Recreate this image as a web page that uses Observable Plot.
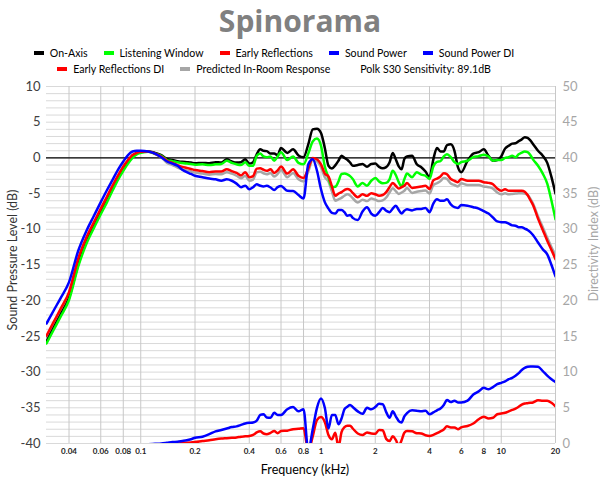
<!DOCTYPE html>
<html><head><meta charset="utf-8">
<script src="https://cdn.jsdelivr.net/npm/d3@7"></script>
<script src="https://cdn.jsdelivr.net/npm/@observablehq/plot@0.6"></script>
<style>
body{margin:0;background:#fff;font-family:Lato,"Open Sans",sans-serif;}
#wrap{position:relative;width:600px;height:480px;overflow:hidden;background:#fff;}
#head{position:relative;height:78px;}
#title{position:absolute;left:0;width:600px;top:1px;text-align:center;font-family:"Open Sans",sans-serif;font-size:30px;font-weight:700;color:#808080;line-height:40px;}
.row{position:absolute;left:0;width:548px;display:flex;justify-content:center;align-items:center;font-size:10.6px;color:#000;gap:16px;height:14px;line-height:14px;}
.item{display:flex;align-items:center;gap:6px;white-space:nowrap;}
.sw{width:10px;height:4px;display:inline-block;}
.atitle{position:absolute;white-space:nowrap;transform:translate(-50%,-50%);}
</style></head><body>
<div id="wrap">
<div id="head"><div id="title">Spinorama</div><div class="row" id="r1" style="top:46px"></div><div class="row" id="r2" style="top:62px"></div></div>
<div id="chart"></div>
<div class="atitle" id="ylab" style="left:12px;top:260px;transform:translate(-50%,-50%) rotate(-90deg);font-size:12.5px;color:#333;">Sound Pressure Level (dB)</div>
<div class="atitle" id="y2lab" style="left:593px;top:244px;transform:translate(-50%,-50%) rotate(-90deg);font-size:12.5px;color:#a6a6a6;">Directivity Index (dB)</div>
<div class="atitle" id="xlab" style="left:305px;top:469px;font-size:12.5px;color:#000;">Frequency (kHz)</div>
</div>
<script>
const titleText = "Spinorama";
const freq = [0.03,0.033,0.036,0.04,0.045,0.05,0.055,0.06,0.065,0.07,0.075,0.08,0.085,0.09,0.095,
0.1,0.11,0.12,0.13,0.14,0.15,0.16,0.17,0.18,0.19,0.2,0.22,0.24,0.26,0.28,0.3,0.32,0.34,0.36,0.38,
0.4,0.42,0.44,0.46,0.48,0.5,0.525,0.55,0.575,0.6,0.65,0.7,0.75,0.8,0.85,0.9,0.95,
1,1.05,1.1,1.15,1.2,1.25,1.3,1.35,1.4,1.45,1.5,1.6,1.7,1.8,1.9,2,2.1,2.2,2.3,2.4,2.5,2.6,2.7,2.8,2.9,3,3.2,3.4,3.6,3.8,4,4.2,4.4,4.6,4.8,5,5.25,5.5,5.75,6,6.5,7,7.5,8,8.5,9,9.5,
10,10.5,11,11.5,12,12.5,13,13.5,14,14.5,15,16,17,18,19,20];

const onAxis = [-25.7,-23.7,-21.9,-19.6,-14.9,-11.7,-9.5,-7.6,-5.9,-4.2,-2.7,-1.5,-0.5,0.3,0.7,0.85,0.9,0.7,0.4,
-0.15,-0.3,-0.45,-0.55,-0.6,-0.65,-0.75,-0.7,-0.75,-0.6,-0.65,-0.2,-0.5,-0.65,-0.6,-0.2,
-0.8,-0.6,0.5,1.2,1.0,0.95,0.6,0.6,0.4,1.4,0.7,1.2,0.35,0.1,1.9,4.0,4.1,
3.5,1.4,-1.1,-1.5,-1.05,-0.4,0.3,0.0,-0.25,-0.65,-1.1,-1.0,-0.85,-1.25,-0.85,-0.8,-1.25,-1.45,-1.3,-0.65,0.7,-0.2,-1.2,-1.6,-0.15,0.2,0.3,-0.9,-1.3,-1.9,-2.7,-0.2,1.4,0.9,0.9,1.8,1.9,1.0,-1.3,-2.0,-0.4,0.6,0.8,1.2,0.3,-0.4,-0.3,
0.2,1.3,1.7,2.0,2.05,2.35,2.6,2.9,2.8,2.45,1.95,1.0,0.3,-0.7,-2.7,-5.0];

const listeningWindow = [-26.0,-24.0,-22.2,-19.9,-15.2,-12.0,-9.8,-7.9,-6.2,-4.5,-3.0,-1.8,-0.8,0.0,0.5,0.7,0.85,0.6,0.3,
-0.3,-0.45,-0.6,-0.7,-0.8,-0.85,-0.95,-0.9,-1.0,-0.9,-0.85,-0.4,-0.7,-0.9,-1.0,-0.6,
-1.1,-1.1,0.3,0.6,0.2,0.1,0.2,-0.4,0.2,0.8,-0.3,0.2,-0.7,-0.9,0.6,2.3,2.7,
1.7,-1.2,-2.75,-4.1,-4.05,-3.3,-2.25,-2.2,-2.3,-2.55,-2.95,-4.0,-3.5,-3.9,-3.2,-2.8,-3.3,-3.55,-3.5,-3.0,-1.8,-2.4,-3.4,-4.0,-3.0,-2.2,-2.7,-2.0,-2.35,-2.5,-2.95,-1.2,-0.55,-0.45,0.2,0.5,0.1,-0.6,-0.85,-0.6,-0.4,0.1,0.25,0.45,0.2,-0.4,-0.3,
-0.3,0.0,0.1,0.3,0.1,0.5,0.75,0.9,0.8,0.4,-0.2,-1.1,-2.2,-3.6,-6.0,-8.6];

const earlyReflections = [-24.9,-22.9,-21.1,-18.8,-14.1,-11.1,-9.0,-7.1,-5.4,-3.8,-2.4,-1.2,-0.3,0.4,0.7,0.85,0.9,0.6,0.2,
-0.4,-0.7,-1.0,-1.25,-1.4,-1.55,-1.7,-1.85,-2.0,-1.9,-1.9,-1.6,-1.85,-2.1,-2.45,-2.0,
-2.7,-2.55,-1.5,-1.45,-1.65,-1.8,-1.6,-2.1,-1.75,-1.2,-2.2,-1.6,-2.5,-2.8,-1.5,0.0,-0.2,
-0.9,-2.2,-2.6,-4.0,-5.3,-5.0,-4.8,-4.5,-4.35,-4.5,-4.9,-5.5,-5.1,-5.3,-4.95,-5.1,-5.3,-5.2,-4.8,-4.1,-3.5,-3.9,-4.3,-4.1,-3.9,-3.5,-4.2,-4.1,-4.0,-3.9,-4.35,-3.15,-2.9,-2.6,-2.15,-2.3,-2.95,-3.2,-3.4,-2.95,-3.2,-3.2,-3.2,-3.4,-3.5,-3.7,-4.3,
-4.6,-4.4,-4.6,-4.6,-4.6,-4.6,-4.6,-4.75,-5.2,-5.9,-6.6,-8.5,-10.1,-11.6,-12.9,-14.2];

const soundPower = [-23.2,-21.3,-19.6,-17.4,-13.0,-10.2,-8.1,-6.2,-4.5,-3.0,-1.6,-0.5,0.4,0.9,1.0,1.0,0.9,0.6,0.1,
-0.5,-0.8,-1.1,-1.65,-2.0,-2.25,-2.5,-2.7,-2.9,-3.0,-3.2,-3.0,-3.2,-3.6,-4.1,-3.9,
-4.4,-4.1,-3.7,-3.9,-4.0,-3.9,-4.15,-4.5,-4.1,-3.95,-4.6,-4.65,-5.2,-5.7,-0.9,-0.2,-1.8,
-4.4,-6.2,-7.1,-7.7,-7.8,-7.3,-7.3,-7.6,-8.1,-8.0,-8.4,-8.7,-7.5,-6.9,-7.8,-8.1,-7.6,-7.0,-7.4,-7.6,-7.1,-6.7,-7.3,-7.8,-7.4,-7.2,-7.35,-7.15,-7.15,-7.0,-7.6,-6.4,-5.8,-6.0,-6.0,-5.8,-6.5,-6.9,-7.0,-6.6,-6.7,-6.9,-7.1,-7.45,-7.8,-8.35,-8.9,
-9.0,-9.0,-9.2,-9.45,-9.5,-9.7,-9.7,-9.9,-10.1,-10.4,-10.8,-11.85,-12.8,-13.5,-15.0,-16.6];

const predictedInRoom = [-25.1,-23.1,-21.3,-19.0,-14.3,-11.3,-9.2,-7.3,-5.6,-4.0,-2.6,-1.4,-0.4,0.3,0.6,0.8,0.85,0.55,0.1,
-0.7,-1.0,-1.35,-1.6,-1.75,-1.9,-2.05,-2.2,-2.35,-2.25,-2.3,-2.0,-2.2,-2.5,-2.85,-2.5,
-3.2,-3.05,-2.0,-1.95,-2.15,-2.3,-2.1,-2.6,-2.25,-1.7,-2.7,-2.1,-3.0,-3.3,-1.9,-0.3,-0.5,
-1.3,-2.7,-3.3,-4.7,-6.0,-5.8,-5.6,-5.3,-5.1,-5.25,-5.65,-6.25,-5.85,-6.05,-5.7,-5.85,-6.05,-5.95,-5.55,-4.85,-4.25,-4.65,-5.05,-4.85,-4.6,-4.2,-4.9,-4.75,-4.65,-4.55,-5.0,-3.8,-3.55,-3.25,-2.8,-2.95,-3.6,-3.8,-4.0,-3.55,-3.8,-3.8,-3.8,-4.0,-4.1,-4.3,-4.85,
-5.1,-4.95,-5.1,-5.05,-5.0,-4.95,-4.95,-5.0,-5.2,-5.7,-6.4,-8.2,-9.7,-11.2,-12.5,-13.7];

// Directivity index values (right axis, dB)
const soundPowerDI = [null,null,null,null,null,null,null,null,null,null,null,null,null,null,null,
-0.6,-0.1,-0.05,0.0,0.1,0.2,0.25,0.35,0.45,0.6,0.8,0.95,1.3,1.7,1.9,2.1,2.3,2.4,2.6,2.8,
2.9,2.95,3.2,4.0,4.1,3.65,3.6,4.3,4.0,4.0,4.8,5.1,4.5,4.8,-1,2.0,5.0,
6.3,5.0,2.1,4.0,4.0,2.7,3.5,4.8,5.15,5.4,5.1,4.5,4.15,5.0,4.8,5.1,5.55,5.5,4.4,3.6,4.5,3.8,3.15,2.95,3.8,4.25,4.65,4.6,4.5,4.6,4.1,4.35,4.65,4.9,5.4,6.1,5.8,6.0,5.75,5.75,6.0,6.85,7.3,7.8,7.6,7.9,8.3,
8.5,8.7,9.0,9.2,9.5,9.85,10.3,10.6,10.75,10.8,10.8,10.75,10.15,9.5,9.0,8.6];

const earlyReflectionsDI = [null,null,null,null,null,null,null,null,null,null,null,null,null,null,null,
-0.6,-0.2,-0.15,-0.1,-0.05,0.0,0.0,0.05,0.1,0.15,0.2,0.35,0.45,0.6,0.7,0.75,0.8,0.85,0.95,1.0,
1.05,1.2,1.55,1.7,1.4,1.3,1.5,1.75,1.45,1.75,1.8,2.0,2.05,2.15,-1,1.0,3.3,
3.7,3.0,1.2,0.6,1.5,-0.5,1.6,2.3,2.5,2.5,2.1,1.4,1.2,1.55,1.4,1.35,1.9,1.85,0.65,0.35,1.0,0.5,-0.3,0.45,1.5,1.75,1.7,1.45,1.4,1.15,1.05,1.2,1.45,1.7,1.95,2.4,2.25,2.25,2.0,2.25,2.45,2.8,3.4,3.75,3.5,3.6,4.1,
4.2,4.3,4.5,4.7,4.9,5.15,5.45,5.6,5.65,5.7,5.75,6.05,6.0,6.0,5.7,5.2];

const xTicks = [0.04,0.06,0.08,0.1,0.2,0.4,0.6,0.8,1,2,4,6,8,10,20];
const yTicks = [-40,-35,-30,-25,-20,-15,-10,-5,0,5,10];
const diTicks = [0,5,10,15,20,25,30,35,40,45,50];
const legendRow1 = ["On-Axis","Listening Window","Early Reflections","Sound Power","Sound Power DI"];
const legendRow2 = ["Early Reflections DI","Predicted In-Room Response"];
const sensitivityNote = "Polk S30 Sensitivity: 89.1dB";
const colors = {"On-Axis":"#000000","Listening Window":"#00ff00","Early Reflections":"#ff0000","Sound Power":"#0000ff","Sound Power DI":"#0000ff","Early Reflections DI":"#ff0000","Predicted In-Room Response":"#a6a6a6"};

const DI_OFFSET = 40; // right axis 0 aligns with left axis -40

document.getElementById("title").textContent = titleText;
function addItems(el, names){
  for(const n of names){
    const it=document.createElement("div"); it.className="item";
    const sw=document.createElement("span"); sw.className="sw"; sw.style.background=colors[n];
    const tx=document.createElement("span"); tx.textContent=n;
    it.appendChild(sw); it.appendChild(tx); el.appendChild(it);
  }
}
const r1=document.getElementById("r1"), r2=document.getElementById("r2");
addItems(r1, legendRow1); addItems(r2, legendRow2);
const note=document.createElement("div"); note.className="item"; note.style.marginLeft="14px"; note.textContent=sensitivityNote; r2.appendChild(note);

const series = [
  {name:"Predicted In-Room Response", values:predictedInRoom, di:false},
  {name:"On-Axis", values:onAxis, di:false},
  {name:"Listening Window", values:listeningWindow, di:false},
  {name:"Early Reflections", values:earlyReflections, di:false},
  {name:"Sound Power", values:soundPower, di:false},
  {name:"Early Reflections DI", values:earlyReflectionsDI, di:true},
  {name:"Sound Power DI", values:soundPowerDI, di:true}
];
const lineMarks = series.map(s => Plot.line(
  freq.map((f,i)=>({f, v:s.values[i]})).filter(d=>d.v!=null),
  {x:"f", y: d => s.di ? d.v - DI_OFFSET : d.v, stroke:colors[s.name], strokeWidth:2.5, curve:"monotone-x", clip:true}
));
const hGrid = d3.range(-40, 11, 1);

const chart = Plot.plot({
  width:600, height:402,
  marginLeft:46, marginRight:45, marginTop:8, marginBottom:37,
  style:{fontFamily:"Lato, 'Open Sans', sans-serif", background:"#fff", overflow:"visible"},
  x:{type:"log", domain:[0.03,20], axis:null},
  y:{domain:[-40,10], axis:null},
  marks:[
    Plot.ruleY(hGrid,{stroke:"#d9d9d9", strokeWidth:1}),
    Plot.ruleX(xTicks,{stroke:"#c8c8c8", strokeWidth:1}),
    Plot.ruleY([0],{stroke:"#000", strokeWidth:1.2}),
    ...lineMarks,
    Plot.text(xTicks,{x:d=>d, text:d=>String(d), frameAnchor:"bottom", dy:10, fontSize:8, fontWeight:700, fill:"#222"}),
    Plot.axisY(yTicks,{anchor:"left", tickSize:0, tickPadding:6, tickFormat:d=>String(d), fontSize:13, fill:"#404040", label:null}),
    Plot.axisY(diTicks.map(t=>t-DI_OFFSET),{anchor:"right", tickSize:0, tickPadding:7, tickFormat:d=>String(d+DI_OFFSET), fontSize:13, fill:"#a6a6a6", label:null})
  ]
});
document.getElementById("chart").appendChild(chart);
</script>
</body></html>
